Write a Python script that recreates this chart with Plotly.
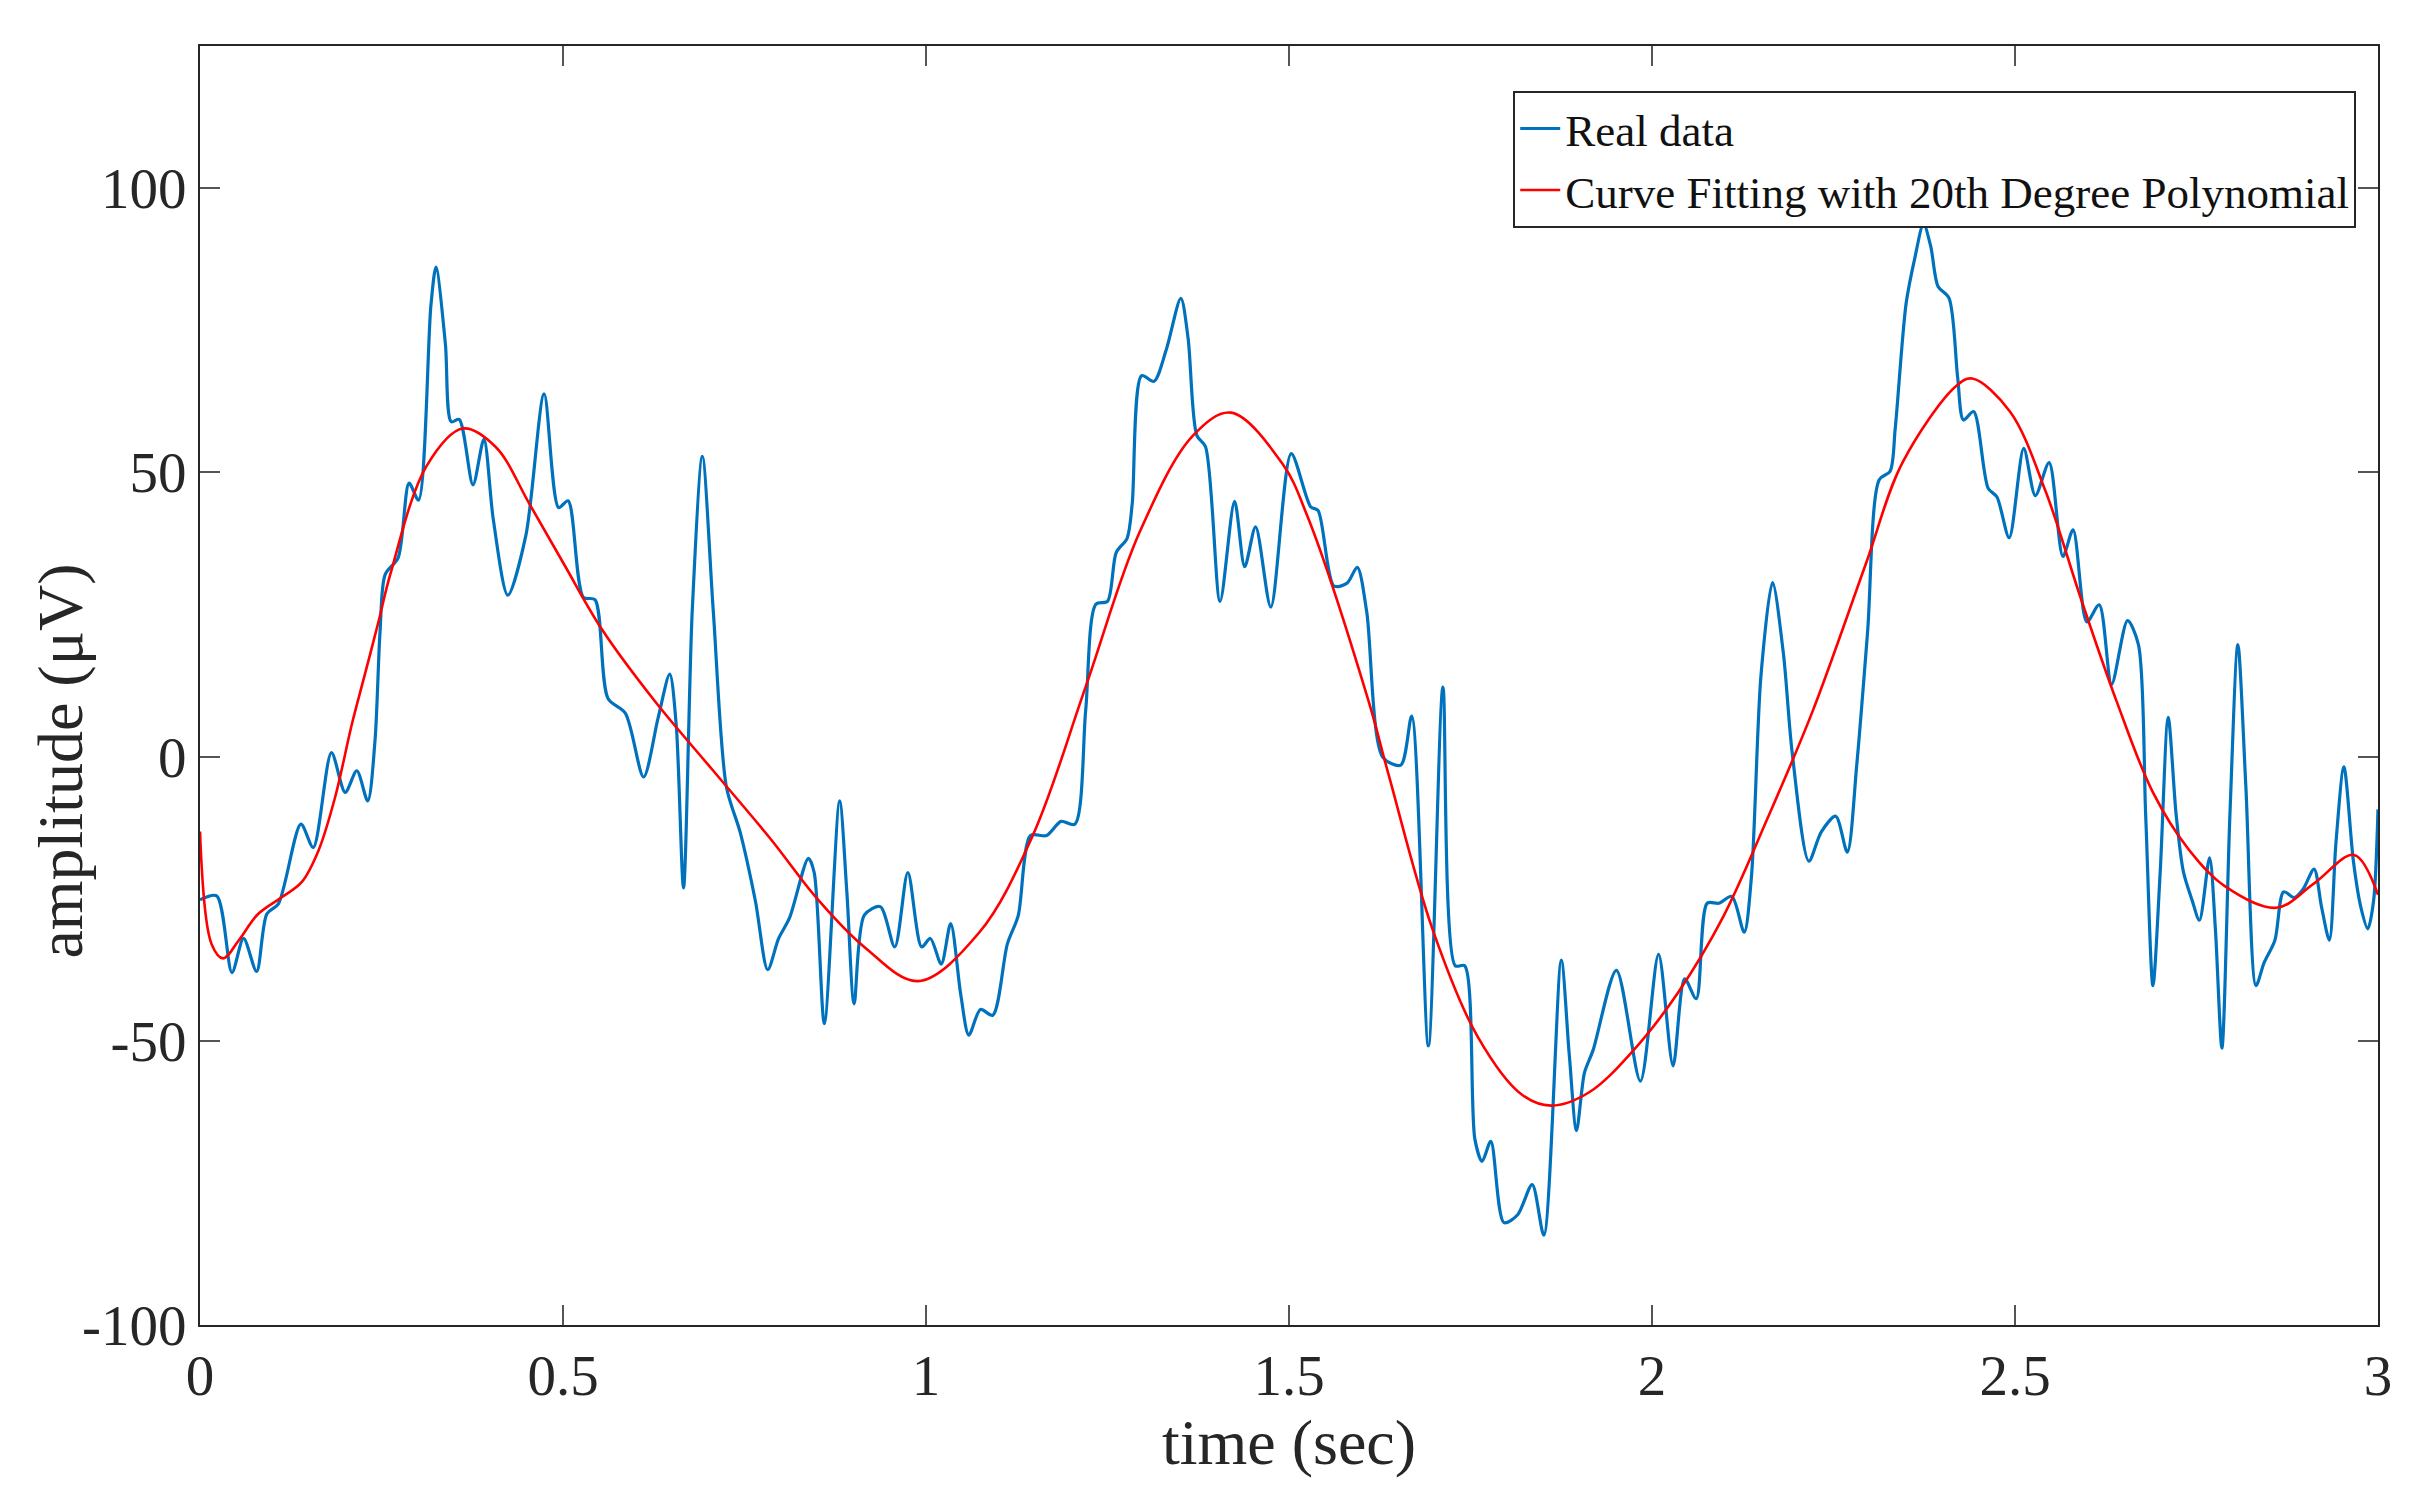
import plotly.graph_objects as go

# Real data (time in sec, amplitude in microvolts)
real_t = [0.000, 0.023, 0.044, 0.060, 0.078, 0.092, 0.108, 0.139, 0.156, 0.181,
          0.200, 0.216, 0.231, 0.241, 0.248, 0.255, 0.273, 0.288, 0.301, 0.318,
          0.325, 0.338, 0.346, 0.357, 0.376, 0.391, 0.404, 0.424, 0.449, 0.474,
          0.494, 0.507, 0.528, 0.544, 0.562, 0.586, 0.611, 0.631, 0.647, 0.656,
          0.666, 0.678, 0.692, 0.707, 0.725, 0.744, 0.765, 0.782, 0.797, 0.812,
          0.838, 0.846, 0.860, 0.881, 0.891, 0.901, 0.915, 0.937, 0.957, 0.975,
          0.994, 1.006, 1.021, 1.034, 1.048, 1.059, 1.075, 1.092, 1.112, 1.127,
          1.144, 1.166, 1.186, 1.205, 1.220, 1.234, 1.250, 1.262, 1.277, 1.284,
          1.297, 1.314, 1.331, 1.351, 1.361, 1.373, 1.385, 1.405, 1.425, 1.439,
          1.454, 1.475, 1.503, 1.530, 1.540, 1.562, 1.580, 1.594, 1.607, 1.629,
          1.654, 1.669, 1.692, 1.712, 1.729, 1.742, 1.756, 1.766, 1.778, 1.796,
          1.815, 1.835, 1.851, 1.875, 1.886, 1.896, 1.907, 1.919, 1.951, 1.984,
          2.009, 2.029, 2.045, 2.061, 2.076, 2.092, 2.110, 2.127, 2.137, 2.150,
          2.166, 2.181, 2.193, 2.216, 2.233, 2.253, 2.269, 2.282, 2.297, 2.313,
          2.328, 2.335, 2.350, 2.362, 2.374, 2.384, 2.394, 2.409, 2.421, 2.429,
          2.443, 2.463, 2.475, 2.492, 2.512, 2.528, 2.547, 2.566, 2.580, 2.599,
          2.616, 2.633, 2.655, 2.670, 2.680, 2.690, 2.700, 2.711, 2.722, 2.732,
          2.744, 2.754, 2.768, 2.776, 2.785, 2.796, 2.807, 2.818, 2.832, 2.843,
          2.858, 2.870, 2.885, 2.897, 2.912, 2.922, 2.933, 2.942, 2.953, 2.966,
          2.976, 2.986, 2.994, 3.000]
real_v = [-25.2, -24.5, -38.0, -32.0, -37.8, -27.7, -25.9, -11.9, -16.0, 0.7,
          -6.3, -2.5, -7.8, 2.7, 22.0, 32.0, 35.0, 48.1, 45.1, 79.3,
          86.1, 72.6, 58.9, 59.3, 47.8, 55.8, 41.7, 28.4, 39.0, 63.8,
          43.8, 45.0, 28.0, 27.6, 10.2, 7.6, -3.6, 6.8, 14.5, 5.5,
          -23.1, 25.6, 52.8, 25.6, -5.3, -13.3, -25.4, -37.5, -32.0, -28.4,
          -17.9, -20.4, -47.0, -7.8, -23.9, -43.5, -27.9, -26.4, -33.5, -20.4,
          -33.5, -32.0, -36.5, -29.4, -42.0, -49.0, -44.5, -45.5, -33.0, -28.0,
          -13.9, -13.9, -11.4, -11.9, 8.2, 26.8, 27.3, 35.9, 38.4, 44.4,
          67.0, 66.0, 71.6, 80.6, 73.6, 56.5, 54.5, 27.3, 44.9, 33.4,
          40.4, 26.3, 53.3, 43.9, 43.3, 30.0, 30.5, 33.3, 25.5, -0.1,
          -1.5, 7.1, -50.9, 12.2, -36.8, -36.8, -67.3, -71.2, -67.7, -82.0,
          -80.6, -75.3, -84.2, -35.8, -52.4, -65.8, -55.6, -51.6, -37.6, -57.1,
          -34.8, -54.4, -39.1, -42.6, -25.8, -25.8, -24.6, -30.9, -21.1, 14.1,
          30.6, 18.1, 0.8, -18.4, -13.3, -10.5, -16.8, -1.5, 22.0, 48.7,
          50.2, 57.7, 79.7, 87.7, 93.7, 89.7, 82.7, 80.7, 66.7, 59.2,
          60.7, 47.2, 45.7, 38.5, 54.2, 45.9, 51.7, 35.2, 39.9, 23.7,
          26.7, 12.7, 23.9, 19.7, -10.3, -40.3, -20.3, 6.9, -10.3, -20.3,
          -25.3, -28.8, -17.8, -30.3, -51.3, -10.3, 19.7, -5.3, -40.3, -36.3,
          -32.3, -23.8, -24.8, -23.3, -19.8, -26.3, -32.3, -15.3, -1.8, -18.3,
          -26.3, -30.3, -25.3, -9.3]

# 20th degree polynomial fit
fit_t = [0.000, 0.016, 0.032, 0.053, 0.080, 0.112, 0.140, 0.163, 0.186, 0.209,
         0.227, 0.246, 0.262, 0.312, 0.362, 0.407, 0.454, 0.502, 0.554, 0.628,
         0.707, 0.786, 0.850, 0.915, 0.989, 1.073, 1.147, 1.220, 1.294, 1.368,
         1.420, 1.491, 1.525, 1.609, 1.637, 1.698, 1.760, 1.821, 1.861, 1.913,
         1.975, 2.036, 2.098, 2.159, 2.221, 2.294, 2.345, 2.419, 2.441, 2.493,
         2.542, 2.591, 2.640, 2.690, 2.739, 2.789, 2.860, 2.912, 2.967, 3.000]
fit_v = [-13.2, -33.0, -35.5, -32.4, -27.7, -24.8, -22.1, -16.6, -7.2, 5.6,
         14.4, 23.8, 32.0, 51.1, 57.7, 54.5, 44.4, 33.7, 22.3, 9.5,
         -2.5, -14.5, -25.0, -33.5, -39.5, -31.0, -13.9, 12.3, 39.4, 56.5,
         60.5, 51.5, 42.4, 10.0, -3.1, -30.5, -49.3, -59.5, -61.4, -59.1,
         -51.6, -41.5, -28.2, -10.9, 7.9, 33.7, 51.7, 65.2, 66.5, 60.7,
         46.7, 27.7, 9.7, -6.3, -16.3, -22.8, -26.6, -22.3, -17.3, -24.3]

x_ticks = [0, 0.5, 1, 1.5, 2, 2.5, 3]
x_ticklabels = ["0", "0.5", "1", "1.5", "2", "2.5", "3"]
y_ticks = [-100, -50, 0, 50, 100]
y_ticklabels = ["-100", "-50", "0", "50", "100"]

FONT = "Liberation Serif, Times New Roman, serif"

fig = go.Figure()
fig.add_trace(go.Scatter(
    x=real_t, y=real_v, mode="lines", name="Real data",
    line=dict(color="#0072BD", width=3.2, shape="spline", smoothing=0.8),
))
fig.add_trace(go.Scatter(
    x=fit_t, y=fit_v, mode="lines", name="Curve Fitting with 20th Degree Polynomial",
    line=dict(color="#FF0000", width=2.6, shape="spline", smoothing=1.0),
))

axis_common = dict(
    showline=True, linecolor="#262626", linewidth=2, mirror="ticks",
    ticks="inside", ticklen=20, tickwidth=1.5, tickcolor="#555555",
    showgrid=False, zeroline=False,
    tickfont=dict(family=FONT, size=57, color="#262626"),
)

fig.update_layout(
    width=2411, height=1494,
    margin=dict(l=192, r=41, t=38, b=177, autoexpand=False),
    paper_bgcolor="white", plot_bgcolor="white",
    font=dict(family=FONT, color="#262626"),
    showlegend=True,
    legend=dict(
        x=0.99, y=0.965, xanchor="right", yanchor="top",
        bgcolor="white", bordercolor="#262626", borderwidth=2,
        font=dict(family=FONT, size=45, color="#111111"),
        tracegroupgap=0, itemwidth=40,
    ),
    xaxis=dict(range=[0, 3], tickmode="array", tickvals=x_ticks, ticktext=x_ticklabels,
               title=dict(text="time (sec)", font=dict(family=FONT, size=64, color="#262626"), standoff=8),
               automargin=False, **axis_common),
    yaxis=dict(range=[-100, 125], tickmode="array", tickvals=y_ticks, ticktext=y_ticklabels,
               automargin=False, **axis_common),
)

fig.add_annotation(
    text="amplitude (μV)", xref="paper", yref="paper",
    x=-0.064, y=0.441, xanchor="center", yanchor="middle",
    textangle=-90, showarrow=False,
    font=dict(family=FONT, size=64, color="#262626"),
)

fig.write_html("out.html")
